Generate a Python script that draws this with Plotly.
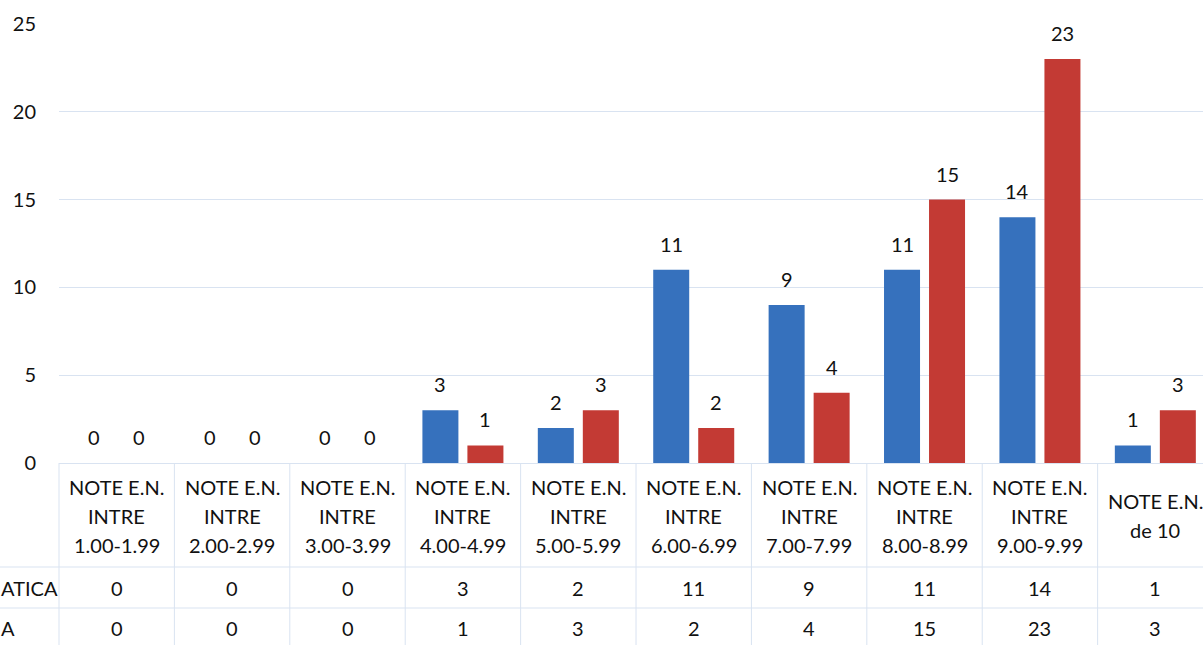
import plotly.graph_objects as go

# ---------------- data ----------------
cat_lines = [
    ["NOTE E.N.", "INTRE", "1.00-1.99"],
    ["NOTE E.N.", "INTRE", "2.00-2.99"],
    ["NOTE E.N.", "INTRE", "3.00-3.99"],
    ["NOTE E.N.", "INTRE", "4.00-4.99"],
    ["NOTE E.N.", "INTRE", "5.00-5.99"],
    ["NOTE E.N.", "INTRE", "6.00-6.99"],
    ["NOTE E.N.", "INTRE", "7.00-7.99"],
    ["NOTE E.N.", "INTRE", "8.00-8.99"],
    ["NOTE E.N.", "INTRE", "9.00-9.99"],
    ["NOTE E.N.", "de 10"],
]
categories = [" ".join(l) for l in cat_lines]
row_labels = ["ATICA", "A"]          # visible (clipped) series names
matematica = [0, 0, 0, 3, 2, 11, 9, 11, 14, 1]
romana = [0, 0, 0, 1, 3, 2, 4, 15, 23, 3]
y_ticks = [0, 5, 10, 15, 20, 25]

# ---------------- layout constants ----------------
W, H = 1203, 645
L, T, B = 59, 24, 182
PW, PH = W - L, H - T - B
X_RANGE = [-0.5, 9.413]
SPAN = X_RANGE[1] - X_RANGE[0]
GRID = "#d9e3f1"
FONT = "Lato"
FS = 20
BLUE = "#3671bd"
RED = "#c33a34"
TXT = "#111111"


def px2x(px):
    return (px - L) / PW


def py2y(py):
    return (H - B - py) / PH


def cat2x(c):
    return (c - X_RANGE[0]) / SPAN


fig = go.Figure()
fig.add_trace(go.Bar(x=categories, y=matematica, name="MATEMATICA",
                     marker=dict(color=BLUE, line=dict(width=0))))
fig.add_trace(go.Bar(x=categories, y=romana, name="ROMANA",
                     marker=dict(color=RED, line=dict(width=0))))

annotations = []
# data labels above bars
for series, shift in ((matematica, -22.5), (romana, 22.5)):
    for c, v in zip(categories, series):
        annotations.append(dict(x=c, y=v, xref="x", yref="y", text=str(v),
                                showarrow=False, xshift=shift, yshift=26,
                                yanchor="middle",
                                font=dict(family=FONT, size=FS, color=TXT)))

shapes = []
# table vertical lines
for k in range(len(categories) + 1):
    xp = cat2x(-0.5 + k)
    shapes.append(dict(type="line", xref="paper", yref="paper",
                       x0=xp, x1=xp, y0=0, y1=py2y(H + 5),
                       line=dict(color=GRID, width=1)))
# table horizontal lines
for py in (567, 608):
    shapes.append(dict(type="line", xref="paper", yref="paper",
                       x0=px2x(-5), x1=1.0, y0=py2y(py), y1=py2y(py),
                       line=dict(color=GRID, width=1)))

# table header texts
for i, lines in enumerate(cat_lines):
    xc = cat2x(i)
    if len(lines) == 3:
        ys = [487, 516, 545]
    else:
        ys = [501, 530]
    for t, py in zip(lines, ys):
        annotations.append(dict(x=xc, y=py2y(py), xref="paper", yref="paper",
                                text=t, showarrow=False, xanchor="center",
                                yanchor="middle",
                                font=dict(family=FONT, size=FS, color=TXT)))
# table values
for series, py in ((matematica, 588), (romana, 628)):
    for i, v in enumerate(series):
        annotations.append(dict(x=cat2x(i), y=py2y(py), xref="paper", yref="paper",
                                text=str(v), showarrow=False, xanchor="center",
                                yanchor="middle",
                                font=dict(family=FONT, size=FS, color=TXT)))
# row labels at the left edge
for lbl, py in ((row_labels[0], 588), (row_labels[1], 628)):
    annotations.append(dict(x=px2x(0), y=py2y(py), xref="paper", yref="paper",
                            text=lbl, showarrow=False, xanchor="left",
                            yanchor="middle", borderpad=0,
                            font=dict(family=FONT, size=FS, color=TXT)))

fig.update_layout(
    width=W, height=H, autosize=False,
    margin=dict(l=L, r=0, t=T, b=B, pad=0),
    paper_bgcolor="white", plot_bgcolor="white",
    barmode="group", bargap=0.22, bargroupgap=0.2,
    showlegend=False,
    xaxis=dict(type="category", range=X_RANGE, showticklabels=False,
               showgrid=False, zeroline=False, showline=True,
               linecolor=GRID, linewidth=1, ticks=""),
    yaxis=dict(range=[0, 25], tickvals=y_ticks, showgrid=True, gridcolor=GRID,
               gridwidth=1, zeroline=False, showline=False, ticks="",
               ticklabelstandoff=22,
               tickfont=dict(family=FONT, size=FS, color=TXT)),
    annotations=annotations,
    shapes=shapes,
)

fig.write_html(
    "out.html",
    config={"displayModeBar": False},
    post_script="document.body.style.margin='0';document.body.style.overflow='hidden';",
)
